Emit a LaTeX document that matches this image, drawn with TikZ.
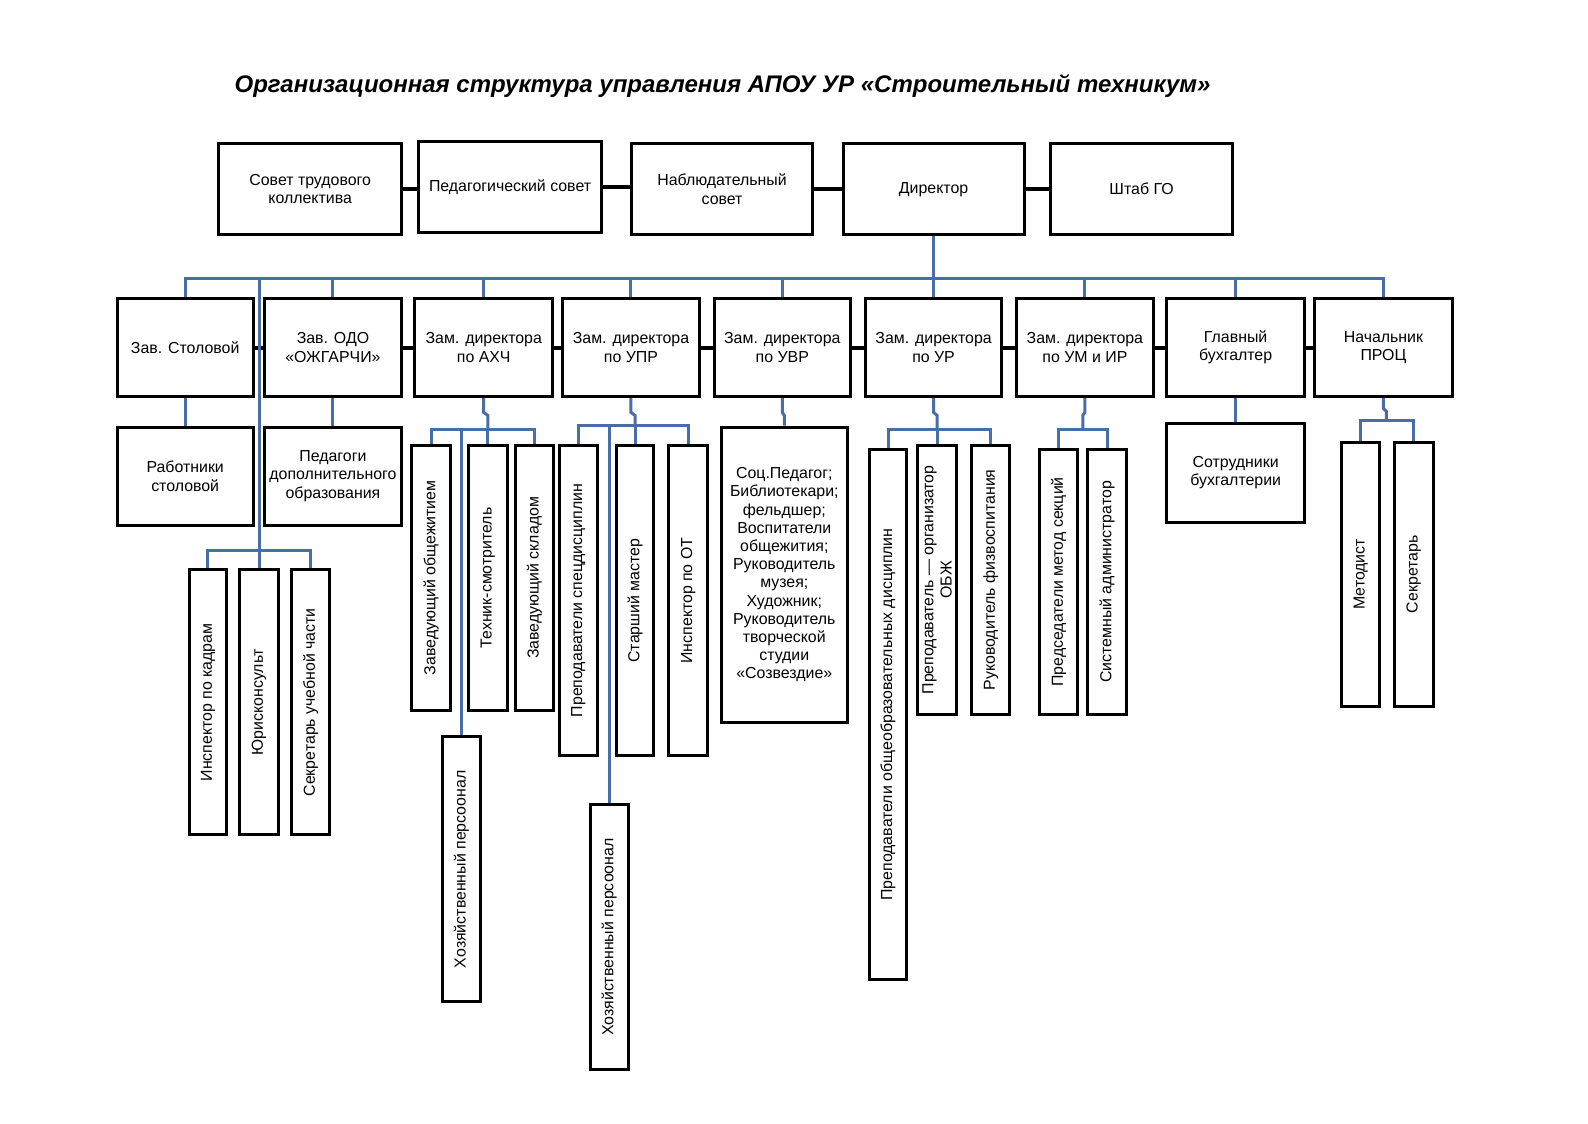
\documentclass[tikz,border=0pt]{standalone}
\usepackage{fontspec}
\setmainfont{Liberation Sans}
\definecolor{linkblue}{RGB}{72,110,165}
\newcommand\HBx[6]{\node[box, minimum width={(#4-#2)*0.506pt}, minimum height={(#5-#3)*0.506pt}] (#1) at ({(#2+#4)/2},{(#3+#5)/2}) {#6};}
\newcommand\VBx[6]{\node[box, minimum width={(#4-#2)*0.506pt}, minimum height={(#5-#3)*0.506pt}] (#1) at ({(#2+#4)/2},{(#3+#5)/2}) {};
  \node[txt, rotate=90] at (#1.center) {#6};}
\begin{document}
\begin{tikzpicture}[x=0.506pt,y=-0.506pt,
  box/.style={draw, line width=1.5pt, inner sep=0pt, align=center, fill=white,
    font=\fontsize{7.95}{9.1}\selectfont},
  txt/.style={inner sep=0pt, align=center, font=\fontsize{7.95}{9.1}\selectfont},
  con/.style={line width=2pt},
  bl/.style={draw=linkblue, line width=1.5pt}]
\useasboundingbox (0pt,0pt) rectangle (794pt,-561.5pt);

\node[font=\fontsize{12}{14}\selectfont\bfseries\itshape] (title) at (714,85)
  {Организационная структура управления АПОУ УР «Строительный техникум»};

% top row
\HBx{t1}{216}{142}{397}{232}{Совет трудового\\коллектива}
\HBx{t2}{414}{140}{594}{230}{Педагогический совет}
\HBx{t3}{624}{142}{803}{232}{Наблюдательный\\совет}
\HBx{t4}{833}{142}{1012}{232}{Директор}
\HBx{t5}{1038}{142}{1218}{232}{Штаб ГО}

% middle row
\HBx{m1}{116}{295}{250}{392}{Зав. Столовой}
\HBx{m2}{261}{295}{397}{392}{Зав. ОДО\\«ОЖГАРЧИ»}
\HBx{m3}{410}{295}{546}{392}{Зам. директора\\по АХЧ}
\HBx{m4}{556}{295}{691}{392}{Зам. директора\\по УПР}
\HBx{m5}{706}{295}{840}{392}{Зам. директора\\по УВР}
\HBx{m6}{855}{295}{990}{392}{Зам. директора\\по УР}
\HBx{m7}{1004}{295}{1140}{392}{Зам. директора\\по УМ и ИР}
\HBx{m8}{1153}{295}{1289}{392}{Главный\\бухгалтер}
\HBx{m9}{1299}{295}{1435}{392}{Начальник\\ПРОЦ}

% lower boxes
\HBx{r1}{116}{422}{250}{519}{Работники\\столовой}
\HBx{r2}{261}{422}{397}{519}{Педагоги\\дополнительного\\образования}
\VBx{a1}{407}{440}{445}{702}{Заведующий общежитием}
\VBx{a2}{463}{440}{501}{702}{Техник-смотритель}
\VBx{a3}{509}{440}{547}{702}{Заведующий складом}
\VBx{a4}{437}{728}{475}{990}{Хозяйственный персоонал}
\VBx{u1}{553}{440}{590}{747}{Преподаватели спецдисциплин}
\VBx{u2}{609}{440}{646}{747}{Старший мастер}
\VBx{u3}{661}{440}{699}{747}{Инспектор по ОТ}
\VBx{u4}{583}{795}{621}{1057}{Хозяйственный персоонал}
\HBx{v1}{713}{422}{837}{714}{Соц.Педагог;\\Библиотекари;\\фельдшер;\\Воспитатели\\общежития;\\Руководитель\\музея;\\Художник;\\Руководитель\\творческой\\студии\\«Созвездие»}
\VBx{p1}{859}{444}{896}{968}{Преподаватели общеобразовательных дисциплин}
\VBx{p2}{907}{440}{945}{706}{Преподаватель — организатор\\ОБЖ}
\VBx{p3}{960}{440}{998}{706}{Руководитель физвоспитания}
\VBx{q1}{1027}{444}{1065}{706}{Председатели метод секций}
\VBx{q2}{1075}{444}{1113}{706}{Системный администратор}
\HBx{b1}{1153}{418}{1289}{516}{Сотрудники\\бухгалтерии}
\VBx{s1}{1326}{437}{1363}{698}{Методист}
\VBx{s2}{1378}{437}{1416}{698}{Секретарь}
\VBx{i1}{187}{563}{224}{825}{Инспектор по кадрам}
\VBx{i2}{237}{563}{275}{825}{Юрисконсульт}
\VBx{i3}{288}{563}{326}{825}{Секретарь учебной части}

% black connectors, top row
\foreach \a/\b in {t1/t2,t2/t3,t3/t4,t4/t5}
  \draw[con] (\a.east) -- (\a.east -| \b.west);
% black connectors, middle row
\foreach \a/\b in {m1/m2,m2/m3,m3/m4,m4/m5,m5/m6,m6/m7,m7/m8,m8/m9}
  \draw[con] (\a.east) -- (\a.east -| \b.west);

% blue tree
\coordinate (bus) at (256,275);
\draw[bl] (t4.south) -- (m6.north);
\draw[bl] (m1.north) |- (bus) -| (m9.north);
\foreach \m in {m2,m3,m4,m5,m7,m8}
  \draw[bl] (\m.north |- bus) -- (\m.north);
\draw[bl] (bus) -- (i2.north);
\draw[bl] (i1.north) -- ++(0,-18) -| (i3.north);
\draw[bl] (m1.south) -- (r1.north);
\draw[bl] (m2.south) -- (r2.north);

% АХЧ
\coordinate (ax) at (482,424);
\draw[bl] (m3.south) -- ++(0,14) -- ++(4,3) -- (ax);
\draw[bl] (a1.north) |- (ax) -| (a3.north);
\draw[bl] (ax) -- (a2.north);
\draw[bl] (a4.north |- ax) -- (a4.north);
% УПР
\coordinate (up) at (627.5,420);
\draw[bl] (m4.south) -- ++(0,14) -- ++(4,3) -- (up);
\draw[bl] (u1.north) |- (up) -| (u3.north);
\draw[bl] (up) -- (u2.north);
\draw[bl] (u4.north |- up) -- (u4.north);
% УВР
\draw[bl] (m5.south) -- ++(0,14) -- ++(2,3) -- (v1.north);
% УР
\coordinate (ur) at (926,424);
\draw[bl] (m6.south) -- ++(0,14) -- ++(3.5,3) -- (ur);
\draw[bl] (p1.north) |- (ur) -| (p3.north);
\draw[bl] (ur) -- (p2.north);
% УМ и ИР
\coordinate (um) at (1070,424);
\draw[bl] (m7.south) -- ++(0,14) -- ++(-2,3) -- (um);
\draw[bl] (q1.north) |- (um) -| (q2.north);
% бухгалтер
\draw[bl] (m8.south) -- (b1.north);
% ПРОЦ
\coordinate (pr) at (1370,416);
\draw[bl] (m9.south) -- ++(0,10) -- ++(3,3) -- (pr);
\draw[bl] (s1.north) |- (pr) -| (s2.north);
\end{tikzpicture}
\end{document}
